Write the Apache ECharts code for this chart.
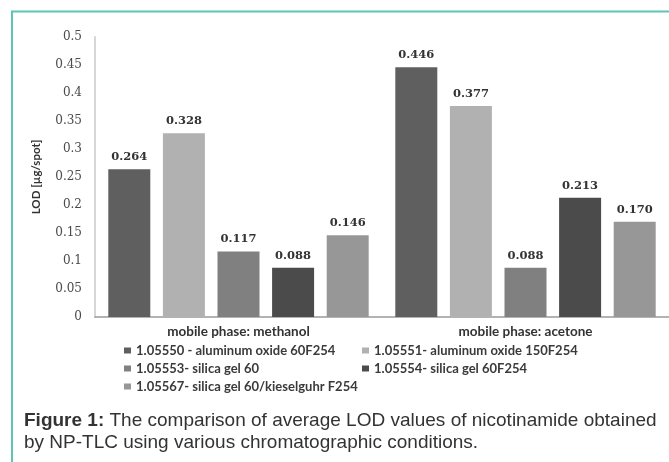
<!DOCTYPE html>
<html>
<head>
<meta charset="utf-8">
<script src="https://cdn.jsdelivr.net/npm/echarts@6/dist/echarts.min.js"></script>
<style>
html,body{margin:0;padding:0;background:#fff;}
#chart{width:669px;height:462px;}
</style>
</head>
<body>
<div id="chart"></div>
<script>
const categories = ['mobile phase: methanol', 'mobile phase: acetone'];
const seriesNames = [
  '1.05550 - aluminum oxide 60F254',
  '1.05551- aluminum oxide 150F254',
  '1.05553- silica gel 60',
  '1.05554- silica gel 60F254',
  '1.05567- silica gel 60/kieselguhr F254'
];
const s1 = [0.264, 0.446];
const s2 = [0.328, 0.377];
const s3 = [0.117, 0.088];
const s4 = [0.088, 0.213];
const s5 = [0.146, 0.170];
const yTicks = [0, 0.05, 0.1, 0.15, 0.2, 0.25, 0.3, 0.35, 0.4, 0.45, 0.5];
const colors = ['#5f5f5f', '#b1b1b1', '#808080', '#4b4b4b', '#979797'];
const values = [s1, s2, s3, s4, s5];

const legendPos = [[124, 344], [362, 344], [124, 362], [362, 362], [124, 380]];

const chart = echarts.init(document.getElementById('chart'));
chart.setOption({
  backgroundColor: '#fff',
  animation: false,
  grid: {left: 95, top: 37, width: 583, bottom: 145},
  legend: seriesNames.map((n, i) => ({
    data: [n], left: legendPos[i][0], top: legendPos[i][1], padding: 0,
    itemWidth: 7, itemHeight: 6, itemGap: 5,
    icon: 'rect',
    textStyle: {fontFamily: 'Lato', fontWeight: 'bold', fontSize: 13, color: '#3a3a3a'}
  })),
  xAxis: {
    type: 'category', data: categories,
    axisLine: {lineStyle: {color: '#9a9a9a', width: 1.5}},
    axisTick: {show: false},
    axisLabel: {margin: 8, fontFamily: 'Lato', fontWeight: 'bold', fontSize: 13.5, color: '#333'}
  },
  yAxis: {
    type: 'value', min: 0, max: 0.5, interval: 0.05,
    name: 'LOD [µg/spot]', nameLocation: 'middle', nameGap: 53, nameRotate: 90,
    nameTextStyle: {fontFamily: 'Lato', fontWeight: 'bold', fontSize: 11.5, color: '#333'},
    axisLine: {show: true, lineStyle: {color: '#d6d6d6', width: 2}},
    axisTick: {show: false},
    splitLine: {show: false},
    axisLabel: {
      margin: 13, fontFamily: 'DejaVu Serif', fontSize: 12, color: '#4a4a4a',
      formatter: v => { const t = yTicks.find(x => Math.abs(x - v) < 1e-9); return t === undefined ? '' : String(+t.toFixed(2)); }
    }
  },
  series: values.map((d, i) => ({
    name: seriesNames[i], type: 'bar', data: d,
    barWidth: 42, barGap: '30%',
    itemStyle: {color: colors[i]},
    label: {
      show: true, position: 'top', distance: 6,
      fontFamily: 'DejaVu Serif', fontWeight: 'bold', fontSize: 11.5, color: '#333',
      formatter: p => p.value.toFixed(3)
    }
  })),
  graphic: [
    {type: 'polyline', shape: {points: [[12, 470], [12, 11.5], [680, 11.5]]},
     style: {stroke: '#5cc5b3', lineWidth: 2, fill: null}},
    {type: 'text', left: 24, top: 411, style: {
      rich: {b: {fontFamily: 'Liberation Sans', fontWeight: 'bold', fontSize: 19, fill: '#333', lineHeight: 22},
             n: {fontFamily: 'Liberation Sans', fontSize: 19, fill: '#333', lineHeight: 22}},
      text: '{b|Figure 1:}{n| The comparison of average LOD values of nicotinamide obtained}\n{n|by NP-TLC using various chromatographic conditions.}'
    }}
  ]
});
</script>
</body>
</html>
